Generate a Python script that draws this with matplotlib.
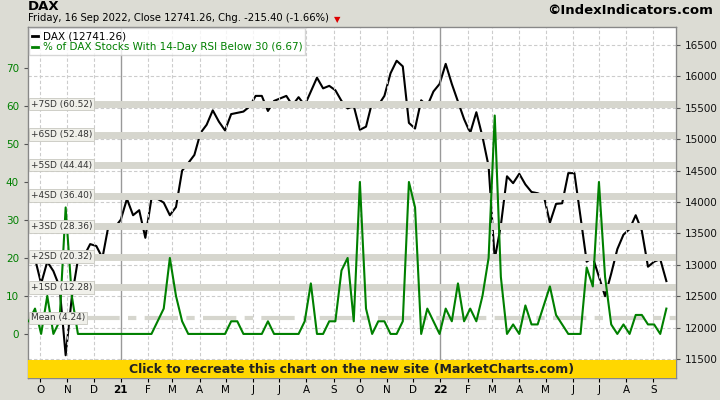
import numpy as np
import pandas as pd
import matplotlib
matplotlib.use("Agg")
import matplotlib.pyplot as plt
from matplotlib.lines import Line2D
from matplotlib.patches import Rectangle

dates = pd.date_range("2020-09-18", "2022-09-16", freq="7D")

dax = [13120, 13100, 12700, 13050, 12900, 12650, 11560, 12480, 13080, 13140, 13330, 13300, 13110, 13630, 13590,
       13720, 14050, 13790, 13870, 13430, 14060, 14050, 13990, 13790, 13920, 14500, 14620, 14750, 15100, 15230,
       15460, 15280, 15140, 15400, 15420, 15440, 15520, 15690, 15690, 15450, 15610, 15650, 15690, 15540, 15670,
       15540, 15760, 15980, 15810, 15850, 15780, 15610, 15490, 15530, 15150, 15200, 15590, 15540, 15690, 16050,
       16250, 16160, 15260, 15170, 15620, 15530, 15760, 15880,
       16200, 15880, 15600, 15320, 15100, 15430, 15040, 14570, 13090, 13630, 14410, 14300, 14450, 14280, 14160,
       14140, 14100, 13670, 13970, 13980, 14460, 14460, 13760, 13050, 13120, 12810, 12500, 12860, 13250, 13480,
       13570, 13790, 13540, 12970, 13050, 13090, 12741.26]

rsi30 = [3.33, 6.67, 0, 10, 0, 3.33, 33.3, 10, 0, 0, 0, 0, 0, 0, 0,
         0, 0, 0, 0, 0, 0, 3.33, 6.67, 20, 10, 3.33, 0, 0, 0, 0,
         0, 0, 0, 3.33, 3.33, 0, 0, 0, 0, 3.33, 0, 0, 0, 0, 0,
         3.33, 13.3, 0, 0, 3.33, 3.33, 16.7, 20, 3.33, 40, 6.67, 0, 3.33, 3.33, 0,
         0, 3.33, 40, 33.3, 0, 6.67, 3.33, 0,
         6.67, 3.33, 13.3, 3.33, 6.67, 3.33, 10, 20, 57.5, 15, 0, 2.5, 0, 7.5, 2.5,
         2.5, 7.5, 12.5, 5, 2.5, 0, 0, 0, 17.5, 12.5, 40, 15, 2.5, 0, 2.5,
         0, 5, 5, 2.5, 2.5, 0, 6.67]

mean = 4.24
sd_levels = [12.28, 20.32, 28.36, 36.40, 44.44, 52.48, 60.52]
sd_names = ["+1SD", "+2SD", "+3SD", "+4SD", "+5SD", "+6SD", "+7SD"]

bg = "#dcdcd4"
fig = plt.figure(figsize=(7.2, 4), dpi=100, facecolor=bg)
ax = fig.add_axes([28/720, 22/400, 648/720, 351/400])
ax2 = ax.twinx()

ax.set_ylim(-11.6, 80.8)
ax2.set_ylim(11198, 16787)
ax.set_xlim(pd.Timestamp("2020-09-17"), pd.Timestamp("2022-09-27"))

# grid
months = pd.date_range("2020-10-01", "2022-09-01", freq="MS")
for m in months:
    if m.month == 1:
        ax.axvline(m, color="#999999", lw=1, zorder=0)
    else:
        ax.axvline(m, color="#cccccc", lw=0.8, ls=(0, (3, 2)), zorder=0)
for v in range(11500, 16501, 500):
    ax2.axhline(v, color="#cccccc", lw=0.8, ls=(0, (3, 2)), zorder=0)

# SD bands
for lv, nm in zip(sd_levels, sd_names):
    ax.axhline(lv, color="#d6d6ce", lw=5, zorder=1)
    ax.text(pd.Timestamp("2020-09-20"), lv, "%s (%.2f)" % (nm, lv), fontsize=6.5, color="#333333",
            va="center", ha="left", zorder=6,
            bbox=dict(boxstyle="square,pad=0.2", fc="#f0f0ea", ec="#c8c8c0", lw=0.6))
ax.axhline(mean, color="#d6d6ce", lw=3, ls=(0, (8, 2, 2, 2)), zorder=1)
ax.text(pd.Timestamp("2020-09-20"), mean, "Mean (%.2f)" % mean, fontsize=6.5, color="#333333",
        va="center", ha="left", zorder=6,
        bbox=dict(boxstyle="square,pad=0.2", fc="#f0f0ea", ec="#c8c8c0", lw=0.6))

ax.plot(dates, rsi30, color="#008000", lw=1.5, zorder=3)
ax2.plot(dates, dax, color="black", lw=1.5, zorder=4)
ax.set_zorder(ax2.get_zorder() + 1)
ax.patch.set_visible(False)
ax2.patch.set_visible(True)
ax2.patch.set_facecolor("white")

# banner
ax.add_patch(Rectangle((0, 0), 1, 18/351, transform=ax.transAxes, fc="#ffd700", ec="none", zorder=7))
ax.text(0.5, 9/351, "Click to recreate this chart on the new site (MarketCharts.com)", transform=ax.transAxes,
        ha="center", va="center", fontsize=9, fontweight="bold", color="#222222", zorder=8)

ax.set_yticks(range(0, 71, 10))
ax.tick_params(axis="y", colors="#555555", labelcolor="#008000", labelsize=7.5, length=3)
ax2.set_yticks(range(11500, 16501, 500))
ax2.tick_params(axis="y", labelsize=7.5, length=3, labelcolor="#111111", colors="#555555")
ax.set_xticks(months)
ax.set_xticklabels([("%d" % (m.year % 100)) if m.month == 1 else m.strftime("%b")[0] for m in months],
                   fontsize=7.5)
for lbl, m in zip(ax.get_xticklabels(), months):
    if m.month == 1:
        lbl.set_fontweight("bold")
ax.tick_params(axis="x", length=3, pad=2)
for s in ax.spines.values():
    s.set_color("#888888")

leg_handles = [Line2D([], [], color="black", lw=2), Line2D([], [], color="#008000", lw=2)]
leg = ax.legend(leg_handles, ["DAX (12741.26)", "% of DAX Stocks With 14-Day RSI Below 30 (6.67)"],
                loc="upper left", bbox_to_anchor=(0, 1), fontsize=7.5, handlelength=0.6,
                frameon=True, fancybox=False, borderpad=0.3, labelspacing=0.1, handletextpad=0.4,
                borderaxespad=0.1)
leg.get_frame().set_edgecolor("#cccccc")
leg.get_texts()[1].set_color("#008000")
leg.set_zorder(9)

fig.text(28/720, 0.999, "DAX", fontsize=9.5, fontweight="bold", va="top")
fig.text(28/720, 0.968, "Friday, 16 Sep 2022, Close 12741.26, Chg. -215.40 (-1.66%)", fontsize=7.2, va="top")
fig.text(334/720, 0.962, "\u25BC", fontsize=6, color="#dd0000", va="top")
fig.text(0.99, 0.99, "\u00a9IndexIndicators.com", fontsize=9.5, fontweight="bold", va="top", ha="right")

fig.savefig("out.png", dpi=100, facecolor=bg)
